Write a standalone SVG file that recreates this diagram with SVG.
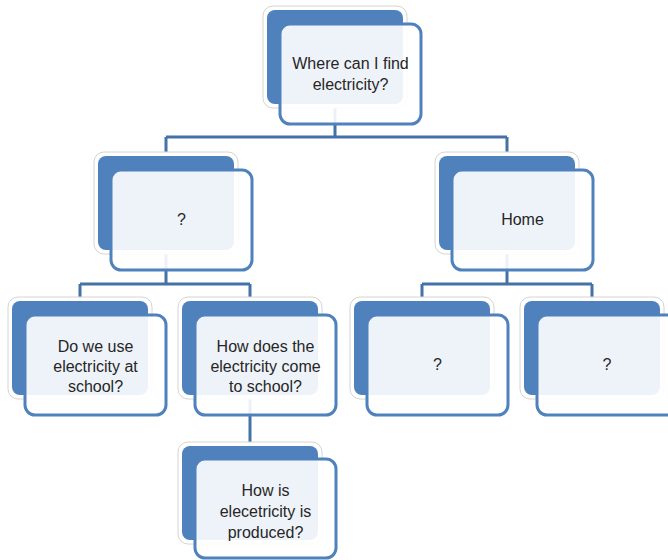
<svg xmlns="http://www.w3.org/2000/svg" width="668" height="560" viewBox="0 0 668 560">
<style>
.halo{fill:#ffffff;stroke:#d4d4d4;stroke-width:1}
.back{fill:#4f81bd}
.front{fill:#ffffff;fill-opacity:0.9;stroke:#4f81bd;stroke-width:3}
.t{font-family:"Liberation Sans",Arial,sans-serif;font-size:16px;fill:#262626;text-anchor:middle}
.c{fill:none;stroke:#4472a8;stroke-width:3}
</style>
<rect width="668" height="560" fill="#ffffff"/>
<g id="connectors">
<path class="c" d="M335 100V137M166 137H507M166 137V160M507 137V160"/>
<path class="c" d="M166 245V284M80 284H250M80 284V305M250 284V305"/>
<path class="c" d="M507 245V284M422 284H592M422 284V305M592 284V305"/>
<path class="c" d="M250 390V450"/>
</g>
<g id="n-top">
<rect class="halo" x="263" y="6" width="144" height="102" rx="10"/>
<rect class="back" x="267" y="10" width="136" height="94" rx="8"/>
<rect class="front" x="280" y="24" width="141" height="100" rx="10"/>
<text class="t" x="350.5" y="69">Where can I find</text>
<text class="t" x="350.5" y="90">electricity?</text>
</g>
<g id="n-midL">
<rect class="halo" x="94" y="152" width="144" height="102" rx="10"/>
<rect class="back" x="98" y="156" width="136" height="94" rx="8"/>
<rect class="front" x="111" y="170" width="141" height="100" rx="10"/>
<text class="t" x="181.5" y="225">?</text>
</g>
<g id="n-midR">
<rect class="halo" x="435" y="152" width="144" height="102" rx="10"/>
<rect class="back" x="439" y="156" width="136" height="94" rx="8"/>
<rect class="front" x="452" y="170" width="141" height="100" rx="10"/>
<text class="t" x="522.5" y="225">Home</text>
</g>
<g id="n-b1">
<rect class="halo" x="8" y="297" width="144" height="102" rx="10"/>
<rect class="back" x="12" y="301" width="136" height="94" rx="8"/>
<rect class="front" x="25" y="315" width="141" height="100" rx="10"/>
<text class="t" x="95.5" y="352">Do we use</text>
<text class="t" x="95.5" y="372">electricity at</text>
<text class="t" x="95.5" y="392">school?</text>
</g>
<g id="n-b2">
<rect class="halo" x="178" y="297" width="144" height="102" rx="10"/>
<rect class="back" x="182" y="301" width="136" height="94" rx="8"/>
<rect class="front" x="195" y="315" width="141" height="100" rx="10"/>
<text class="t" x="265.5" y="352">How does the</text>
<text class="t" x="265.5" y="372">electricity come</text>
<text class="t" x="265.5" y="392">to school?</text>
</g>
<g id="n-b3">
<rect class="halo" x="350" y="297" width="144" height="102" rx="10"/>
<rect class="back" x="354" y="301" width="136" height="94" rx="8"/>
<rect class="front" x="367" y="315" width="141" height="100" rx="10"/>
<text class="t" x="437.5" y="370">?</text>
</g>
<g id="n-b4">
<rect class="halo" x="520" y="297" width="144" height="102" rx="10"/>
<rect class="back" x="524" y="301" width="136" height="94" rx="8"/>
<rect class="front" x="537" y="315" width="141" height="100" rx="10"/>
<text class="t" x="607" y="370">?</text>
</g>
<g id="n-b5">
<rect class="halo" x="178" y="442" width="144" height="102" rx="10"/>
<rect class="back" x="182" y="446" width="136" height="94" rx="8"/>
<rect class="front" x="195" y="459" width="141" height="99" rx="10"/>
<text class="t" x="265.5" y="496">How is</text>
<text class="t" x="265.5" y="517">elecetricity is</text>
<text class="t" x="265.5" y="538">produced?</text>
</g>
</svg>
